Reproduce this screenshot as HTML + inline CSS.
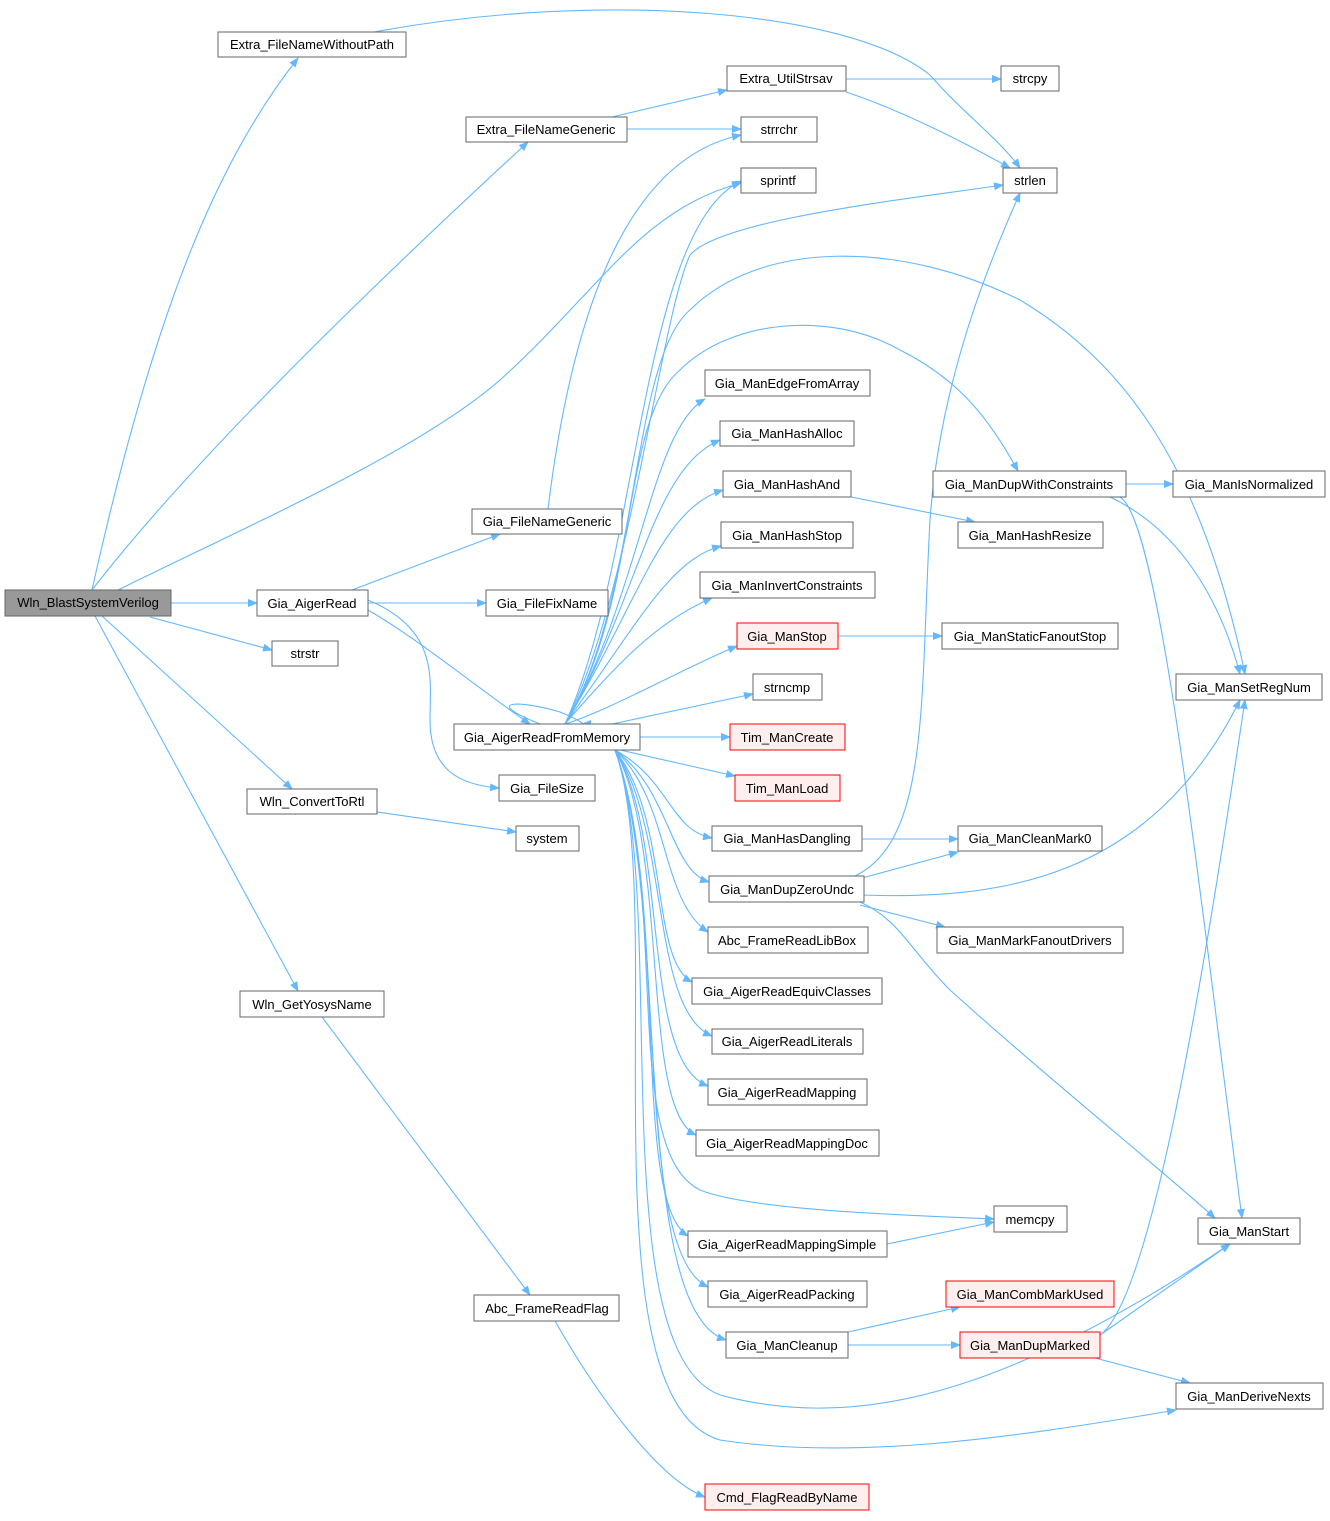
<!DOCTYPE html>
<html><head><meta charset="utf-8"><style>
html,body{margin:0;padding:0;background:#fff;}
svg text{font-family:"Liberation Sans",Arial,sans-serif;font-size:13px;fill:#000;}
</style></head><body>
<svg width="1330" height="1516" viewBox="0 0 1330 1516" xmlns="http://www.w3.org/2000/svg">
<defs><marker id="a" viewBox="0 0 10 10" refX="9" refY="5" markerWidth="10" markerHeight="10" markerUnits="userSpaceOnUse" orient="auto"><path d="M0,1 L10,5 L0,9 z" fill="#63b8ff"/></marker></defs>
<g fill="none" stroke="#63b8ff" stroke-width="1.1" marker-end="url(#a)">
<path d="M92,590 C150,330 210,170 298,58"/>
<path d="M92,590 C200,450 400,260 528,142"/>
<path d="M118,590 C260,520 420,450 500,380 C600,290 640,210 741,183"/>
<path d="M171,603 L257,603"/>
<path d="M150,617 L272,650"/>
<path d="M102,616 L292,789"/>
<path d="M95,616 L298,991"/>
<path d="M352,590 L500,534"/>
<path d="M368,603 L486,603"/>
<path d="M368,610 C420,640 480,690 530,724"/>
<path d="M368,600 C440,630 430,680 430,720 C430,770 460,785 499,788"/>
<path d="M374,32 C600,-10 850,10 930,75 C960,110 1000,140 1020,168"/>
<path d="M612,117 L727,90"/>
<path d="M627,129 L741,129"/>
<path d="M846,79 L1001,79"/>
<path d="M846,92 C900,110 960,140 1010,168"/>
<path d="M548,509 C570,330 620,160 741,135"/>
<path d="M565,724 C630,600 660,320 690,255 C720,220 900,200 1003,185"/>
<path d="M855,876 C930,840 920,700 930,520 C940,380 990,260 1020,193"/>
<path d="M565,724 C640,560 640,230 741,181"/>
<path d="M565,724 C640,600 630,360 690,310 C760,240 900,240 1020,300 C1120,360 1200,460 1245,674"/>
<path d="M565,724 C640,600 620,420 680,370 C730,320 830,310 900,350 C960,380 990,420 1018,471"/>
<path d="M565,724 C640,600 650,430 705,399"/>
<path d="M565,724 C640,600 650,470 720,440"/>
<path d="M565,724 C640,600 660,510 723,490"/>
<path d="M565,724 C640,620 670,560 721,546"/>
<path d="M565,724 C620,660 660,620 712,598"/>
<path d="M565,724 C610,710 680,670 737,646"/>
<path d="M540,724 C480,700 520,700 560,712 C575,718 585,724 582,724"/>
<path d="M612,724 L753,694"/>
<path d="M640,737 L730,737"/>
<path d="M620,750 L735,776"/>
<path d="M615,750 C670,780 670,830 712,838"/>
<path d="M615,750 C670,790 670,870 709,882"/>
<path d="M615,750 C670,800 660,900 708,932"/>
<path d="M615,750 C670,820 650,960 692,982"/>
<path d="M615,750 C670,830 650,1010 712,1036"/>
<path d="M615,750 C670,840 640,1060 708,1086"/>
<path d="M615,750 C670,850 640,1110 696,1135"/>
<path d="M615,750 C670,900 620,1150 700,1190 C750,1210 900,1215 994,1219"/>
<path d="M615,750 C670,900 630,1200 688,1236"/>
<path d="M615,750 C670,900 630,1250 708,1287"/>
<path d="M615,750 C670,900 630,1310 726,1340"/>
<path d="M615,750 C670,900 600,1350 720,1395 C850,1430 1000,1400 1230,1244"/>
<path d="M615,750 C670,900 580,1400 720,1440 C850,1460 1000,1440 1176,1410"/>
<path d="M851,497 L975,522"/>
<path d="M1126,484 L1173,484"/>
<path d="M1110,497 C1180,530 1220,600 1240,674"/>
<path d="M1120,497 C1160,520 1200,900 1242,1218"/>
<path d="M838,636 L942,636"/>
<path d="M862,839 L958,839"/>
<path d="M862,878 L958,852"/>
<path d="M860,895 C1000,900 1150,880 1240,700"/>
<path d="M860,905 L945,927"/>
<path d="M860,902 C900,920 910,950 950,990 C1050,1080 1150,1160 1215,1218"/>
<path d="M887,1244 L994,1222"/>
<path d="M848,1332 L960,1307"/>
<path d="M848,1345 L960,1345"/>
<path d="M1100,1335 L1230,1244"/>
<path d="M1100,1335 C1150,1300 1200,1000 1245,700"/>
<path d="M1095,1358 L1190,1383"/>
<path d="M322,1017 L530,1295"/>
<path d="M555,1321 C600,1400 660,1480 705,1497"/>
<path d="M377,812 L516,832"/>
</g>
<rect x="5" y="590" width="166" height="26" fill="#999" stroke="#666"/><text x="88" y="607" text-anchor="middle">Wln_BlastSystemVerilog</text>
<g fill="#fff" stroke="#666">
<rect x="218" y="32" width="188" height="25"/>
<rect x="727" y="66" width="119" height="25"/>
<rect x="1001" y="66" width="58" height="25"/>
<rect x="466" y="117" width="161" height="25"/>
<rect x="741" y="117" width="76" height="25"/>
<rect x="741" y="168" width="75" height="25"/>
<rect x="1003" y="168" width="54" height="25"/>
<rect x="705" y="370" width="165" height="26"/>
<rect x="720" y="421" width="134" height="25"/>
<rect x="723" y="471" width="128" height="26"/>
<rect x="933" y="471" width="193" height="26"/>
<rect x="1173" y="471" width="152" height="26"/>
<rect x="472" y="509" width="150" height="25"/>
<rect x="958" y="522" width="145" height="26"/>
<rect x="721" y="522" width="132" height="26"/>
<rect x="700" y="572" width="175" height="26"/>
<rect x="257" y="590" width="111" height="26"/>
<rect x="486" y="590" width="122" height="26"/>
<rect x="942" y="623" width="176" height="26"/>
<rect x="272" y="641" width="66" height="25"/>
<rect x="753" y="674" width="69" height="26"/>
<rect x="1176" y="674" width="146" height="26"/>
<rect x="454" y="724" width="186" height="26"/>
<rect x="499" y="775" width="96" height="26"/>
<rect x="247" y="789" width="130" height="25"/>
<rect x="712" y="826" width="150" height="25"/>
<rect x="958" y="826" width="144" height="25"/>
<rect x="516" y="826" width="63" height="25"/>
<rect x="709" y="876" width="155" height="26"/>
<rect x="708" y="927" width="160" height="26"/>
<rect x="937" y="927" width="186" height="26"/>
<rect x="240" y="991" width="144" height="26"/>
<rect x="692" y="978" width="190" height="26"/>
<rect x="712" y="1029" width="151" height="25"/>
<rect x="708" y="1079" width="159" height="26"/>
<rect x="696" y="1130" width="183" height="26"/>
<rect x="994" y="1206" width="73" height="26"/>
<rect x="1198" y="1218" width="102" height="26"/>
<rect x="688" y="1231" width="199" height="26"/>
<rect x="708" y="1281" width="159" height="26"/>
<rect x="474" y="1295" width="145" height="26"/>
<rect x="726" y="1332" width="122" height="26"/>
<rect x="1176" y="1383" width="147" height="26"/>
</g>
<g fill="#fee" stroke="#f00">
<rect x="737" y="623" width="101" height="26"/>
<rect x="730" y="724" width="115" height="26"/>
<rect x="735" y="775" width="105" height="26"/>
<rect x="946" y="1281" width="168" height="26"/>
<rect x="960" y="1332" width="140" height="26"/>
<rect x="705" y="1484" width="164" height="26"/>
</g>
<g text-anchor="middle">
<text x="312" y="49">Extra_FileNameWithoutPath</text>
<text x="786" y="83">Extra_UtilStrsav</text>
<text x="1030" y="83">strcpy</text>
<text x="546" y="134">Extra_FileNameGeneric</text>
<text x="779" y="134">strrchr</text>
<text x="778" y="185">sprintf</text>
<text x="1030" y="185">strlen</text>
<text x="787" y="388">Gia_ManEdgeFromArray</text>
<text x="787" y="438">Gia_ManHashAlloc</text>
<text x="787" y="489">Gia_ManHashAnd</text>
<text x="1029" y="489">Gia_ManDupWithConstraints</text>
<text x="1249" y="489">Gia_ManIsNormalized</text>
<text x="547" y="526">Gia_FileNameGeneric</text>
<text x="1030" y="540">Gia_ManHashResize</text>
<text x="787" y="540">Gia_ManHashStop</text>
<text x="787" y="590">Gia_ManInvertConstraints</text>
<text x="312" y="608">Gia_AigerRead</text>
<text x="547" y="608">Gia_FileFixName</text>
<text x="787" y="641">Gia_ManStop</text>
<text x="1030" y="641">Gia_ManStaticFanoutStop</text>
<text x="305" y="658">strstr</text>
<text x="787" y="692">strncmp</text>
<text x="1249" y="692">Gia_ManSetRegNum</text>
<text x="547" y="742">Gia_AigerReadFromMemory</text>
<text x="787" y="742">Tim_ManCreate</text>
<text x="787" y="793">Tim_ManLoad</text>
<text x="547" y="793">Gia_FileSize</text>
<text x="312" y="806">Wln_ConvertToRtl</text>
<text x="787" y="843">Gia_ManHasDangling</text>
<text x="1030" y="843">Gia_ManCleanMark0</text>
<text x="547" y="843">system</text>
<text x="787" y="894">Gia_ManDupZeroUndc</text>
<text x="787" y="945">Abc_FrameReadLibBox</text>
<text x="1030" y="945">Gia_ManMarkFanoutDrivers</text>
<text x="312" y="1009">Wln_GetYosysName</text>
<text x="787" y="996">Gia_AigerReadEquivClasses</text>
<text x="787" y="1046">Gia_AigerReadLiterals</text>
<text x="787" y="1097">Gia_AigerReadMapping</text>
<text x="787" y="1148">Gia_AigerReadMappingDoc</text>
<text x="1030" y="1224">memcpy</text>
<text x="1249" y="1236">Gia_ManStart</text>
<text x="787" y="1249">Gia_AigerReadMappingSimple</text>
<text x="787" y="1299">Gia_AigerReadPacking</text>
<text x="1030" y="1299">Gia_ManCombMarkUsed</text>
<text x="547" y="1313">Abc_FrameReadFlag</text>
<text x="787" y="1350">Gia_ManCleanup</text>
<text x="1030" y="1350">Gia_ManDupMarked</text>
<text x="1249" y="1401">Gia_ManDeriveNexts</text>
<text x="787" y="1502">Cmd_FlagReadByName</text>
</g>
</svg>
</body></html>
